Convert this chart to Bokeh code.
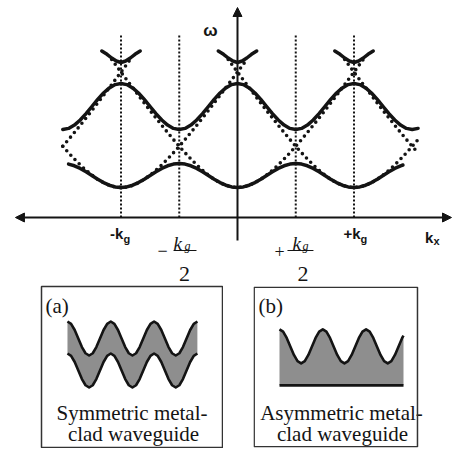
import numpy as np
from bokeh.plotting import figure
from bokeh.models import Arrow, NormalHead, BoxAnnotation, Spacer
from bokeh.layouts import column, row
from bokeh.embed import file_html
from bokeh.resources import INLINE
from bokeh.core.properties import value

# ---------------- dispersion diagram data (k in units of k_g, omega arbitrary) -------------
upper_k = np.round(np.arange(-1.50, 1.5501, 0.05), 2)
upper_w = [0.88, 0.891, 0.924, 0.975, 1.039, 1.11, 1.181, 1.245, 1.296, 1.329,
           1.34, 1.329, 1.296, 1.245, 1.181, 1.11, 1.039, 0.975, 0.924, 0.891,
           0.88, 0.891, 0.924, 0.975, 1.039, 1.11, 1.181, 1.245, 1.296, 1.329,
           1.34, 1.329, 1.296, 1.245, 1.181, 1.11, 1.039, 0.975, 0.924, 0.891,
           0.88, 0.891, 0.924, 0.975, 1.039, 1.11, 1.181, 1.245, 1.296, 1.329,
           1.34, 1.329, 1.296, 1.245, 1.181, 1.11, 1.039, 0.975, 0.924, 0.891,
           0.88, 0.891]

lower_k = list(np.round(np.arange(-1.45, 1.4001, 0.05), 2)) + [1.42]
lower_w = [0.534, 0.517, 0.491, 0.457, 0.42, 0.383, 0.349, 0.323, 0.306,
           0.30, 0.306, 0.323, 0.349, 0.383, 0.42, 0.457, 0.491, 0.517, 0.534,
           0.54, 0.534, 0.517, 0.491, 0.457, 0.42, 0.383, 0.349, 0.323, 0.306,
           0.30, 0.306, 0.323, 0.349, 0.383, 0.42, 0.457, 0.491, 0.517, 0.534,
           0.54, 0.534, 0.517, 0.491, 0.457, 0.42, 0.383, 0.349, 0.323, 0.306,
           0.30, 0.306, 0.323, 0.349, 0.383, 0.42, 0.457, 0.491, 0.517,
           0.525]

top_centers = [-1.0, 0.0, 1.0]
top_q = [-0.165, -0.12, -0.08, -0.04, 0.0, 0.04, 0.08, 0.12, 0.165]
top_w = [1.665, 1.632, 1.595, 1.565, 1.55, 1.565, 1.595, 1.632, 1.665]

free_centers = [-2, -1, 0, 1, 2]
free_q = [0.0, 0.05, 0.10, 0.15, 0.20, 0.25, 0.30, 0.35, 0.40, 0.45, 0.50, 0.55,
          0.60, 0.65, 0.70, 0.75, 0.80, 0.85, 0.90, 0.95, 1.00, 1.05, 1.08]
free_w = [0.30, 0.305, 0.321, 0.347, 0.382, 0.424, 0.472, 0.526, 0.585, 0.647, 0.712, 0.78,
          0.85, 0.922, 0.995, 1.069, 1.145, 1.221, 1.298, 1.376, 1.454, 1.533, 1.581]
k_window = (-1.52, 1.55)

guide_k = [-1.0, -0.5, 0.5, 1.0]
guide_top = [1.83, 1.82, 1.82, 1.83]

# ---------------- inset data (x in grating periods, y in periods below box top) ------------
a_x = np.linspace(0, 3, 37)
a_top = [-0.808, -0.861, -1.005, -1.201, -1.398, -1.541, -1.594, -1.541, -1.398, -1.201, -1.005, -0.861,
         -0.808, -0.861, -1.005, -1.201, -1.398, -1.541, -1.594, -1.541, -1.398, -1.201, -1.005, -0.861,
         -0.808, -0.861, -1.005, -1.201, -1.398, -1.541, -1.594, -1.541, -1.398, -1.201, -1.005, -0.861,
         -0.808]
a_bot = [-1.547, -1.600, -1.744, -1.940, -2.137, -2.280, -2.333, -2.280, -2.137, -1.940, -1.744, -1.600,
         -1.547, -1.600, -1.744, -1.940, -2.137, -2.280, -2.333, -2.280, -2.137, -1.940, -1.744, -1.600,
         -1.547, -1.600, -1.744, -1.940, -2.137, -2.280, -2.333, -2.280, -2.137, -1.940, -1.744, -1.600,
         -1.547]

b_x = list(np.linspace(0, 34 / 12, 35)) + [2.864]
b_top = [-0.990, -1.043, -1.187, -1.383, -1.580, -1.723, -1.775, -1.723, -1.580, -1.383, -1.187, -1.043,
         -0.990, -1.043, -1.187, -1.383, -1.580, -1.723, -1.775, -1.723, -1.580, -1.383, -1.187, -1.043,
         -0.990, -1.043, -1.187, -1.383, -1.580, -1.723, -1.775, -1.723, -1.580, -1.383, -1.187,
         -1.133]
b_base = -2.283

INK = "#141414"
GRAY = "#8e8e8e"
BOX = "#333333"
SANS = value("Liberation Sans")
SERIF = value("Liberation Serif")

# ---------------- main figure ----------------
p = figure(width=454, height=285, x_range=(-2.0343, 1.8627), y_range=(-0.68, 2.17),
           x_axis_type=None, y_axis_type=None, toolbar_location=None,
           output_backend="svg", min_border=0, outline_line_color=None)

# dotted guide lines
p.segment(x0=guide_k, y0=0, x1=guide_k, y1=guide_top, line_color=INK,
          line_width=2, line_dash="2 2")

# empty-lattice (dotted) curves
fq = np.array(free_q)
fw = np.array(free_w)
q_full = np.concatenate([-fq[::-1], fq[1:]])
w_full = np.concatenate([fw[::-1], fw[1:]])
xs, ys = [], []
for n in free_centers:
    kk = n + q_full
    m = (kk >= k_window[0]) & (kk <= k_window[1])
    xs.append(list(kk[m]))
    ys.append(list(w_full[m]))
p.multi_line(xs, ys, line_color=INK, line_width=3.6, line_dash="0 6", line_cap="round")

# solid bands
p.line(upper_k, upper_w, line_color=INK, line_width=3.5, line_join="round", line_cap="round")
p.line(lower_k, lower_w, line_color=INK, line_width=3.5, line_join="round", line_cap="round")
p.multi_line([[c + q for q in top_q] for c in top_centers], [top_w for _ in top_centers],
             line_color=INK, line_width=3.5, line_join="round", line_cap="round")

# axes with arrows
p.add_layout(Arrow(start=NormalHead(size=9, fill_color=INK, line_color=INK),
                   end=NormalHead(size=9, fill_color=INK, line_color=INK),
                   x_start=-1.906, y_start=0, x_end=1.837, y_end=0,
                   line_color=INK, line_width=2))
p.add_layout(Arrow(end=NormalHead(size=9, fill_color=INK, line_color=INK),
                   x_start=0, y_start=-0.23, x_end=0, y_end=2.10,
                   line_color=INK, line_width=2))

# labels
p.text(x=[-0.232], y=[1.87], text=["ω"], text_font=SANS, text_font_style="bold",
       text_font_size="17px", text_align="center", text_baseline="middle", text_color=INK)
p.text(x=[-0.979, 1.056, 1.682], y=[-0.16, -0.16, -0.20], text=["-k", "+k", "k"],
       text_font=SANS, text_font_style="bold", text_font_size="15px",
       text_align="right", text_baseline="alphabetic", text_color=INK)
p.text(x=[-0.979, 1.056, 1.682], y=[-0.21, -0.21, -0.23], text=["g", "g", "x"],
       text_font=SANS, text_font_style="bold", text_font_size="11px",
       text_align="left", text_baseline="alphabetic", text_color=INK)

# fractions  -k_g/2  and  +k_g/2
p.text(x=[-0.644, 0.361], y=[-0.33, -0.335], text=["\u2212", "+"], text_font=SERIF,
       text_font_size="18px", text_align="center", text_baseline="middle", text_color=INK)
p.text(x=[-0.549, 0.472], y=[-0.26, -0.26], text=["k", "k"], text_font=SERIF,
       text_font_style="italic", text_font_size="19px", text_align="left",
       text_baseline="alphabetic", text_color=INK)
p.text(x=[-0.455, 0.558], y=[-0.285, -0.285], text=["g", "g"], text_font=SERIF,
       text_font_style="italic", text_font_size="12px", text_align="left",
       text_baseline="alphabetic", text_color=INK)
p.segment(x0=[-0.549, 0.429], y0=[-0.33, -0.33], x1=[-0.352, 0.652], y1=[-0.33, -0.33],
          line_color=INK, line_width=1)
p.text(x=[-0.455, 0.562], y=[-0.56, -0.56], text=["2", "2"], text_font=SERIF,
       text_font_size="22px", text_align="center", text_baseline="alphabetic", text_color=INK)

# ---------------- inset (a) ----------------
fa = figure(width=183, height=163, x_range=(-0.600, 3.580), y_range=(-3.718, 0),
            x_axis_type=None, y_axis_type=None, toolbar_location=None, output_backend="svg",
            min_border=1, outline_line_color=BOX, outline_line_width=1.5)
fa.varea(x=a_x, y1=a_bot, y2=a_top, fill_color=GRAY)
fa.line(a_x, a_top, line_color=INK, line_width=2.6, line_join="round")
fa.line(a_x, a_bot, line_color=INK, line_width=2.6, line_join="round")
fa.text(x=[-0.508], y=[-0.439], text=["(a)"], text_font=SERIF, text_font_size="21px",
        text_align="left", text_baseline="middle", text_color=INK)
fa.text(x=[1.490, 1.524], y=[-2.910, -3.395], text=["Symmetric metal-", "clad waveguide"],
        text_font=SERIF, text_font_size="21px", text_align="center", text_baseline="middle",
        text_color=INK)

# ---------------- inset (b) ----------------
fb = figure(width=202, height=163, x_range=(-0.6005, 4.042), y_range=(-3.718, 0),
            x_axis_type=None, y_axis_type=None, toolbar_location=None, output_backend="svg",
            min_border_left=1, min_border_right=0, min_border_top=1, min_border_bottom=1,
            outline_line_color=None)
fb.add_layout(BoxAnnotation(left=-0.585, right=3.187, top=-0.015, bottom=-3.70,
                            fill_color=None, fill_alpha=0, line_color=BOX, line_alpha=1.0,
                            line_width=1.5))
fb.varea(x=b_x, y1=b_base, y2=b_top, fill_color=GRAY)
fb.line(b_x, b_top, line_color=INK, line_width=2.6, line_join="round")
fb.line([b_x[0], b_x[-1]], [b_base, b_base], line_color=INK, line_width=2.6)
fb.text(x=[-0.485], y=[-0.439], text=["(b)"], text_font=SERIF, text_font_size="21px",
        text_align="left", text_baseline="middle", text_color=INK)
fb.text(x=[1.432, 1.455], y=[-2.910, -3.395], text=["Asymmetric metal-", "clad waveguide"],
        text_font=SERIF, text_font_size="21px", text_align="center", text_baseline="middle",
        text_color=INK)

layout = column(p, row(Spacer(width=40), fa, Spacer(width=29), fb))

open("out.html", "w").write(file_html(layout, INLINE))
